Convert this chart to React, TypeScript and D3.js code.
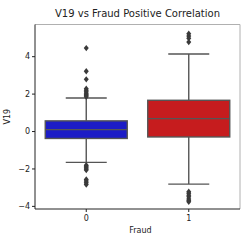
import * as d3 from "d3";

const WIDTH = 250;
const HEIGHT = 242;
const MARGIN = { top: 24.5, right: 10, bottom: 33, left: 35 };

const CATEGORIES = ["0", "1"];
const COLORS = ["#1c1cc6", "#c61c1e"];
// [whiskerLow, q1, median, q3, whiskerHigh]
const STATS = [
  [-1.65, -0.37, 0.1, 0.57, 1.79],
  [-2.81, -0.29, 0.69, 1.67, 4.14],
];
const OUTLIERS = [
  [4.46, 3.22, 2.79, 2.29, 2.2, 2.12, 2.05, 1.98, 1.92, 1.86, -1.8, -1.86, -1.93, -2.0, -2.06, -2.56, -2.65, -2.74, -2.83],
  [5.23, 5.1, 4.98, 4.78, -3.22, -3.3, -3.4, -3.49, -3.6, -3.68, -3.75],
];
const Y_TICKS = [-4, -2, 0, 2, 4];

const LINE = "#555555";
const FONT = "DejaVu Sans, sans-serif";

export default function App() {
  const innerW = WIDTH - MARGIN.left - MARGIN.right;
  const innerH = HEIGHT - MARGIN.top - MARGIN.bottom;

  const x = d3.scaleBand().domain(CATEGORIES).range([0, innerW]);
  const y = d3.scaleLinear().domain([-4.14, 5.72]).range([innerH, 0]);

  const boxW = x.bandwidth() * 0.8;
  const capW = boxW / 2;

  return (
    <svg
      width={WIDTH}
      height={HEIGHT}
      style={{ position: "absolute", left: 0, top: 0, fontFamily: FONT }}
    >
      <rect width={WIDTH} height={HEIGHT} fill="#fff" />
      <text x={MARGIN.left + innerW / 2} y={17} textAnchor="middle" fontSize={10} fill="#222">
        V19 vs Fraud Positive Correlation
      </text>
      <g transform={`translate(${MARGIN.left},${MARGIN.top})`}>
        {CATEGORIES.map((c, i) => {
          const cx = (x(c) ?? 0) + x.bandwidth() / 2;
          const [lo, q1, med, q3, hi] = STATS[i];
          return (
            <g key={c}>
              <line x1={cx} x2={cx} y1={y(q3)} y2={y(hi)} stroke={LINE} strokeWidth={1.4} />
              <line x1={cx} x2={cx} y1={y(q1)} y2={y(lo)} stroke={LINE} strokeWidth={1.4} />
              <line x1={cx - capW / 2} x2={cx + capW / 2} y1={y(hi)} y2={y(hi)} stroke={LINE} strokeWidth={1.4} />
              <line x1={cx - capW / 2} x2={cx + capW / 2} y1={y(lo)} y2={y(lo)} stroke={LINE} strokeWidth={1.4} />
              <rect
                x={cx - boxW / 2}
                y={y(q3)}
                width={boxW}
                height={y(q1) - y(q3)}
                fill={COLORS[i]}
                stroke={LINE}
                strokeWidth={1.4}
              />
              <line x1={cx - boxW / 2} x2={cx + boxW / 2} y1={y(med)} y2={y(med)} stroke={LINE} strokeWidth={1.4} />
              {OUTLIERS[i].map((v, j) => (
                <path
                  key={j}
                  d={`M${cx},${y(v) - 3.2}L${cx + 2.5},${y(v)}L${cx},${y(v) + 3.2}L${cx - 2.5},${y(v)}Z`}
                  fill="#3a3a3a"
                />
              ))}
            </g>
          );
        })}
        <line x1={0} x2={innerW} y1={0} y2={0} stroke="#b0b0b0" strokeWidth={1} />
        <line x1={innerW} x2={innerW} y1={0} y2={innerH} stroke="#b0b0b0" strokeWidth={1} />
        <line x1={0} x2={0} y1={0} y2={innerH} stroke="#222" strokeWidth={1} />
        <line x1={0} x2={innerW} y1={innerH} y2={innerH} stroke="#222" strokeWidth={1} />
        {Y_TICKS.map((t) => (
          <g key={t} transform={`translate(0,${y(t)})`}>
            <line x1={-3} x2={0} stroke="#222" />
            <text x={-5} dy="0.32em" textAnchor="end" fontSize={8} fill="#222">
              {t < 0 ? `\u2212${Math.abs(t)}` : t}
            </text>
          </g>
        ))}
        {CATEGORIES.map((c) => (
          <g key={c} transform={`translate(${(x(c) ?? 0) + x.bandwidth() / 2},${innerH})`}>
            <line y1={0} y2={3} stroke="#222" />
            <text y={12} textAnchor="middle" fontSize={8} fill="#222">
              {c}
            </text>
          </g>
        ))}
        <text x={innerW / 2 + 3} y={innerH + 24} textAnchor="middle" fontSize={8} fill="#222">
          Fraud
        </text>
        <text
          transform={`translate(-25,${innerH / 2}) rotate(-90)`}
          textAnchor="middle"
          fontSize={8}
          fill="#222"
        >
          V19
        </text>
      </g>
    </svg>
  );
}
